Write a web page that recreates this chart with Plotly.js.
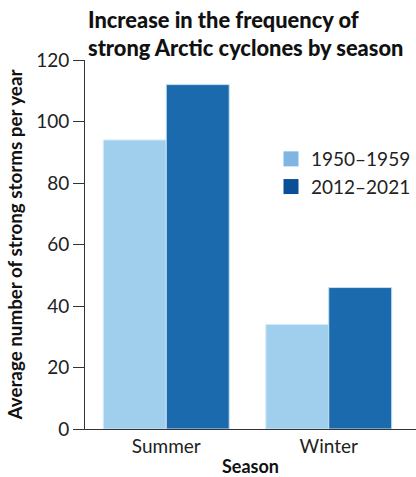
<!DOCTYPE html>
<html>
<head>
<meta charset="utf-8">
<script src="https://cdn.plot.ly/plotly-3.0.1.min.js"></script>
<style>
  html, body { margin: 0; padding: 0; background: #fff; }
  #chart { width: 416px; height: 477px; }
</style>
</head>
<body>
<div id="chart"></div>
<script>
// Average number of strong Arctic cyclones per year, by season
const seasons = ["Summer", "Winter"];
const period1Label = "1950–1959";
const period2Label = "2012–2021";
const period1Values = [94, 34];
const period2Values = [112, 46];
const yTicks = [0, 20, 40, 60, 80, 100, 120];

const FONT = "Lato, 'Open Sans', sans-serif";
const BAR_LIGHT = "#a0cfee";
const BAR_DARK = "#1a6aad";
const KEY_LIGHT = "#80b4e3";
const KEY_DARK = "#0b4f96";

const traces = [
  {
    type: "bar", x: seasons, y: period1Values, name: period1Label,
    marker: { color: BAR_LIGHT, line: { color: "#d6ebf8", width: 1 } },
    showlegend: false, hoverinfo: "skip"
  },
  {
    type: "bar", x: seasons, y: period2Values, name: period2Label,
    marker: { color: BAR_DARK, line: { color: "#c9dff0", width: 1 } },
    showlegend: false, hoverinfo: "skip"
  },
  // legend keys: square swatches
  {
    type: "scatter", mode: "markers", x: [null], y: [null], name: period1Label,
    marker: { symbol: "square", size: 15, color: KEY_LIGHT }, hoverinfo: "skip"
  },
  {
    type: "scatter", mode: "markers", x: [null], y: [null], name: period2Label,
    marker: { symbol: "square", size: 15, color: KEY_DARK }, hoverinfo: "skip"
  }
];

const layout = {
  width: 416, height: 477,
  margin: { l: 85, r: 0, t: 60, b: 48 },
  paper_bgcolor: "#fff", plot_bgcolor: "#fff",
  font: { family: FONT, color: "#222", size: 19 },
  barmode: "group", bargap: 0.225, bargroupgap: 0,
  showlegend: true,
  title: {
    text: "Increase in the frequency of<br>strong Arctic cyclones by season",
    font: { family: FONT, size: 21.8, color: "#111", weight: 900 },
    x: 88 / 416, xanchor: "left", xref: "container",
    y: 1, yref: "container", yanchor: "top", pad: { t: 28 }
  },
  legend: {
    x: (271 - 85) / 331, y: (429 - 140) / 369, xanchor: "left", yanchor: "top",
    font: { family: FONT, size: 19, color: "#222" },
    bgcolor: "rgba(0,0,0,0)", tracegroupgap: 0
  },
  xaxis: {
    type: "category", range: [-0.5, 1.537],
    showline: true, linecolor: "#333", linewidth: 1,
    ticks: "", showgrid: false, zeroline: false,
    tickfont: { family: FONT, size: 19, color: "#222" },
    title: { text: "<b>Season</b>", font: { family: FONT, size: 18, color: "#111" }, standoff: 6 }
  },
  yaxis: {
    range: [0, 120], tickvals: yTicks, ticktext: yTicks.map(String),
    showline: true, linecolor: "#333", linewidth: 1,
    ticks: "outside", ticklen: 11, tickcolor: "#333", tickwidth: 1,
    showgrid: false, zeroline: false,
    tickfont: { family: FONT, size: 19, color: "#222" },
    title: { text: "<b>Average number of strong storms per year</b>", font: { family: FONT, size: 18.8, color: "#111" }, standoff: 8 }
  }
};

Plotly.newPlot("chart", traces, layout, { staticPlot: true, displayModeBar: false });
</script>
</body>
</html>
